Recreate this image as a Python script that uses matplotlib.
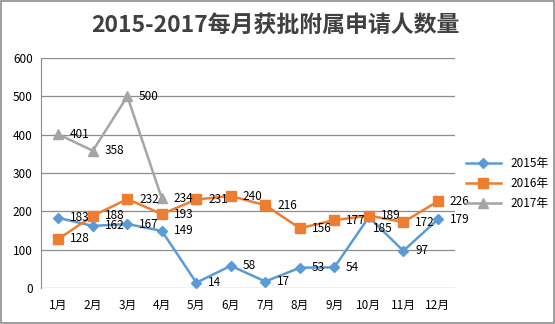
import matplotlib
matplotlib.use("Agg")
import matplotlib.pyplot as plt
from matplotlib.patches import Rectangle

plt.rcParams['font.family'] = ['Noto Sans CJK SC', 'DejaVu Sans']

months = ["1月", "2月", "3月", "4月", "5月", "6月", "7月", "8月", "9月", "10月", "11月", "12月"]
y2015 = [183, 162, 167, 149, 14, 58, 17, 53, 54, 185, 97, 179]
y2016 = [128, 188, 232, 193, 231, 240, 216, 156, 177, 189, 172, 226]
y2017 = [401, 358, 500, 234]

series = [
    ("2015年", y2015, "#5B9BD5", "D", 5),
    ("2016年", y2016, "#ED7D31", "s", 6.5),
    ("2017年", y2017, "#A5A5A5", "^", 6.5),
]

# labels that sit below-right instead of right (as in the source chart)
label_shift = {("2015年", 9): (3, -8)}

fig = plt.figure(figsize=(5.55, 3.24), dpi=100)
ax = fig.add_axes([0.074, 0.111, 0.746, 0.710])

for name, vals, color, marker, ms in series:
    xs = list(range(len(vals)))
    ax.plot(xs, vals, color=color, lw=1.8, marker=marker, ms=ms, label=name)
    for i, (x, v) in enumerate(zip(xs, vals)):
        off = label_shift.get((name, i), (8.5, 0))
        ax.annotate(str(v), (x, v), xytext=off, textcoords="offset points",
                    ha="left", va="center", fontsize=8.5, color="#000000")

ax.set_xlim(-0.5, 11.5)
ax.set_ylim(0, 600)
ax.set_yticks(range(0, 601, 100))
ax.set_xticks(range(12))
ax.set_xticklabels(months)
ax.tick_params(axis="both", length=0, labelsize=8.5, colors="#000000")
ax.tick_params(axis="x", pad=8)
ax.tick_params(axis="y", pad=6)
ax.grid(axis="y", color="#8C8C8C", lw=0.9)
ax.set_axisbelow(True)
for s in ["top", "right", "bottom"]:
    ax.spines[s].set_visible(False)
ax.spines["left"].set_color("#8C8C8C")

fig.suptitle("2015-2017每月获批附属申请人数量", x=0.497, y=0.922, va="center",
             fontsize=16.5, fontweight="bold", color="#404040")

ax.legend(loc="center left", bbox_to_anchor=(1.0, 0.455), frameon=False,
          fontsize=8.5, handlelength=3, labelspacing=0.6)

fig.add_artist(Rectangle((0.001, 0.002), 0.997, 0.995, transform=fig.transFigure,
                         fill=False, edgecolor="#8C8C8C", lw=1.2))

fig.savefig("out.png", dpi=100)
